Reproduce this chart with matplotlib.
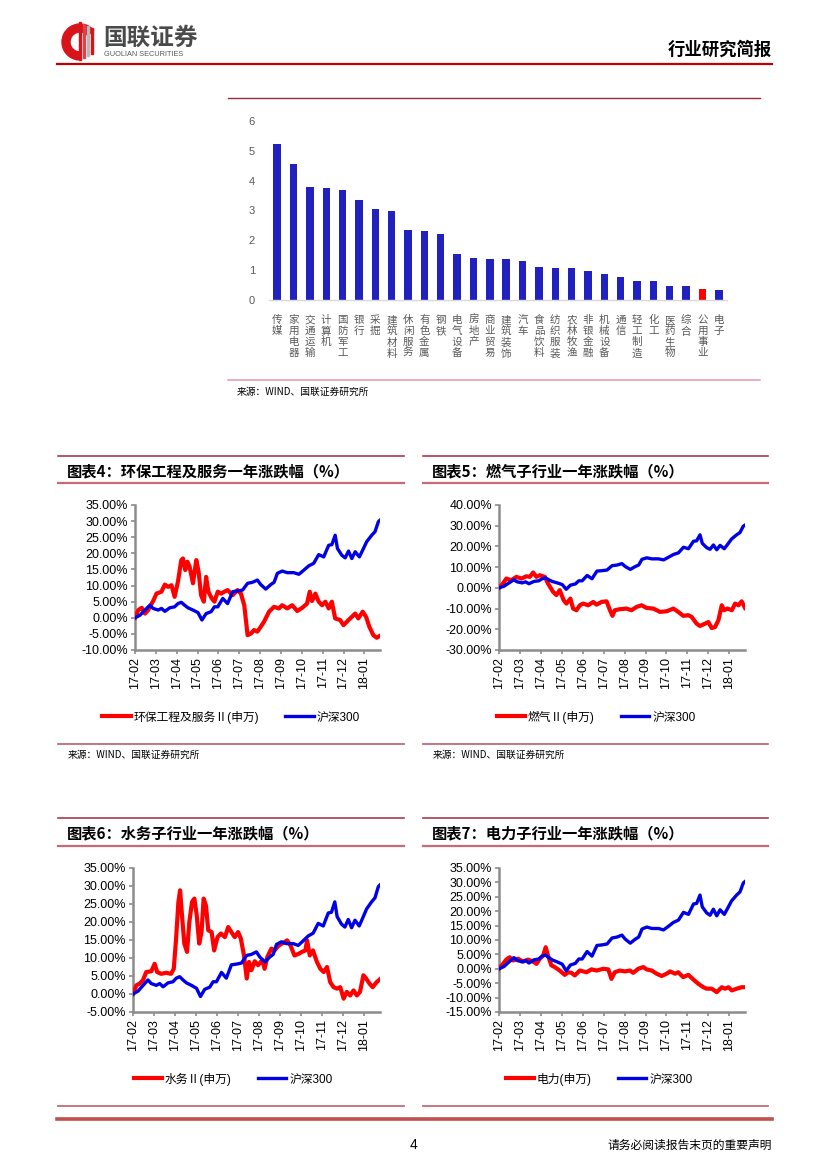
import matplotlib
matplotlib.use('Agg')
import matplotlib.pyplot as plt
from matplotlib.lines import Line2D
from matplotlib.patches import Wedge, Rectangle

W, H = 827, 1169
plt.rcParams['font.family'] = ['Liberation Sans', 'Noto Sans CJK SC', 'DejaVu Sans']
CJK = ['Noto Sans CJK SC', 'DejaVu Sans']

# ---------------- data ----------------
industries = ['传媒', '家用电器', '交通运输', '计算机', '国防军工', '银行', '采掘', '建筑材料',
              '休闲服务', '有色金属', '钢铁', '电气设备', '房地产', '商业贸易', '建筑装饰', '汽车',
              '食品饮料', '纺织服装', '农林牧渔', '非银金融', '机械设备', '通信', '轻工制造', '化工',
              '医药生物', '综合', '公用事业', '电子']
industry_values = [5.22, 4.55, 3.80, 3.77, 3.70, 3.36, 3.05, 2.98, 2.35, 2.30, 2.20, 1.55, 1.40,
                   1.38, 1.36, 1.30, 1.10, 1.08, 1.06, 0.96, 0.88, 0.78, 0.63, 0.63, 0.47, 0.47,
                   0.37, 0.32]
highlight_industry = '公用事业'

month_labels = ['17-02', '17-03', '17-04', '17-05', '17-06', '17-07', '17-08', '17-09',
                '17-10', '17-11', '17-12', '18-01']

# time in months since 2017-02-01
hs300_t = [0, 0.24, 0.48, 0.71, 0.87, 1.11, 1.27, 1.43, 1.67, 1.90, 2.06, 2.22, 2.38, 2.54, 2.78,
           3.02, 3.21, 3.41, 3.65, 3.81, 3.97, 4.21, 4.44, 4.68, 4.92, 5.16, 5.40, 5.63, 5.87,
           6.03, 6.27, 6.51, 6.67, 6.83, 7.06, 7.30, 7.62, 7.86, 8.10, 8.33, 8.57, 8.81, 9.05,
           9.29, 9.44, 9.60, 9.71, 9.92, 10.08, 10.24, 10.40, 10.56, 10.76, 10.92, 11.11, 11.35,
           11.51, 11.67, 11.75]
hs300_v = [0, 0.8, 2.4, 3.9, 2.9, 2.4, 2.9, 2.0, 3.1, 3.4, 4.4, 4.8, 3.9, 3.1, 2.4, 1.6, -0.7,
           1.3, 1.9, 3.4, 3.4, 6.0, 4.4, 8.1, 8.3, 8.6, 10.7, 11.0, 11.7, 10.3, 8.9, 10.3, 11.0,
           13.8, 14.5, 14.0, 14.0, 13.5, 14.8, 16.1, 16.9, 19.6, 18.9, 22.5, 22.7, 25.6, 21.5,
           19.4, 18.6, 20.7, 18.4, 20.5, 18.9, 21.0, 23.6, 25.6, 26.7, 29.8, 30.3]

env_t = [0, 0.16, 0.32, 0.48, 0.63, 0.87, 1.03, 1.27, 1.43, 1.59, 1.75, 1.90, 2.06, 2.22, 2.30,
         2.41, 2.51, 2.62, 2.78, 2.94, 3.05, 3.17, 3.30, 3.41, 3.52, 3.68, 3.81, 3.97, 4.13, 4.29,
         4.44, 4.68, 4.92, 5.08, 5.24, 5.40, 5.56, 5.71, 5.87, 6.03, 6.19, 6.43, 6.67, 6.90, 7.06,
         7.30, 7.54, 7.78, 8.02, 8.25, 8.38, 8.49, 8.65, 8.81, 8.97, 9.13, 9.29, 9.44, 9.60, 9.84,
         10.0, 10.24, 10.40, 10.56, 10.71, 10.92, 11.08, 11.24, 11.43, 11.59, 11.75]
env_v = [0, 2.4, 3.1, 1.3, 2.4, 5.2, 7.5, 8.1, 10.3, 9.6, 10.1, 6.5, 11.2, 17.9, 18.4, 14.8, 17.4,
         15.8, 10.7, 17.9, 14.3, 7.0, 5.0, 12.7, 8.1, 6.0, 5.0, 8.1, 7.5, 8.1, 8.6, 7.0, 8.6, 7.5,
         3.9, -5.4, -4.9, -3.8, -4.3, -2.8, -1.2, 1.9, 3.4, 2.9, 3.9, 2.9, 3.9, 2.1, 3.1, 4.4, 8.1,
         5.2, 7.5, 5.0, 3.9, 5.0, 2.9, 5.0, -0.2, -0.7, -2.3, -0.7, 0.3, 1.3, -0.2, 1.9, 0.3, -2.8,
         -5.4, -6.2, -5.6]

gas_t = [0, 0.19, 0.35, 0.59, 0.83, 1.07, 1.31, 1.47, 1.63, 1.79, 1.95, 2.19, 2.34, 2.58, 2.74,
         2.90, 3.09, 3.22, 3.41, 3.54, 3.70, 3.86, 4.02, 4.26, 4.50, 4.66, 4.90, 5.14, 5.30, 5.42,
         5.53, 5.77, 6.09, 6.33, 6.57, 6.81, 7.05, 7.37, 7.69, 8.01, 8.33, 8.56, 8.80, 9.04, 9.20,
         9.44, 9.60, 9.84, 10.0, 10.16, 10.32, 10.48, 10.64, 10.75, 10.91, 11.12, 11.28, 11.44,
         11.59, 11.75]
gas_v = [0, 2.1, 4.5, 3.7, 5.3, 4.5, 5.6, 5.3, 7.4, 5.3, 6.1, 5.3, 2.1, -1.9, -3.5, -1.1, -6.0,
         -7.6, -5.2, -10.0, -10.8, -8.4, -7.6, -8.4, -6.8, -8.1, -6.8, -6.5, -10.8, -13.5, -10.8,
         -10.3, -10.0, -10.8, -9.2, -8.4, -9.7, -10.0, -11.6, -11.3, -10.0, -11.6, -13.5, -13.2,
         -14.0, -17.3, -18.4, -17.3, -16.5, -19.4, -18.9, -15.6, -8.4, -10.8, -10.0, -10.8, -7.6,
         -8.4, -6.5, -9.7]

water_t = [0, 0.16, 0.32, 0.47, 0.63, 0.87, 1.03, 1.15, 1.34, 1.58, 1.81, 1.94, 2.05, 2.16, 2.24,
           2.33, 2.44, 2.57, 2.68, 2.81, 2.92, 3.03, 3.15, 3.26, 3.36, 3.47, 3.58, 3.74, 3.86,
           4.02, 4.18, 4.37, 4.53, 4.68, 4.84, 5.00, 5.13, 5.28, 5.41, 5.52, 5.63, 5.79, 5.95,
           6.15, 6.26, 6.39, 6.58, 6.73, 6.94, 7.18, 7.33, 7.49, 7.68, 7.89, 8.04, 8.20, 8.28,
           8.41, 8.56, 8.75, 8.91, 9.07, 9.23, 9.38, 9.54, 9.70, 9.86, 10.02, 10.17, 10.33, 10.49,
           10.65, 10.80, 10.96, 11.09, 11.25, 11.40, 11.59, 11.75]
water_v = [0, 2.4, 2.9, 3.8, 6.1, 6.3, 8.4, 6.1, 5.6, 5.9, 5.6, 7.0, 15.4, 25.6, 28.8, 21.9, 14.0,
           11.7, 20.0, 25.6, 26.5, 21.9, 14.0, 17.2, 26.5, 24.6, 17.7, 17.2, 12.1, 15.8, 16.8,
           15.8, 18.6, 17.2, 15.8, 17.2, 15.4, 10.7, 4.3, 8.9, 6.6, 9.1, 8.0, 9.4, 7.0, 10.3, 12.6,
           12.1, 13.5, 14.3, 14.9, 13.5, 10.7, 11.2, 11.7, 12.1, 14.9, 10.7, 12.1, 8.9, 7.0, 6.1,
           7.5, 3.3, 1.9, 1.5, 1.9, -1.3, 0.6, -0.4, 1.0, -0.4, 0.6, 5.2, 4.3, 2.9, 1.9, 3.3, 4.1]

power_t = [0, 0.19, 0.35, 0.51, 0.67, 0.91, 1.15, 1.39, 1.63, 1.79, 1.95, 2.11, 2.23, 2.34, 2.50,
           2.66, 2.90, 3.14, 3.30, 3.46, 3.62, 3.86, 4.18, 4.42, 4.66, 4.98, 5.22, 5.37, 5.53,
           5.77, 6.01, 6.25, 6.41, 6.65, 6.89, 7.05, 7.29, 7.53, 7.77, 8.01, 8.17, 8.41, 8.56,
           8.80, 9.04, 9.28, 9.52, 9.76, 9.92, 10.16, 10.40, 10.64, 10.80, 10.96, 11.12, 11.36,
           11.59, 11.75]
power_v = [0, 1.7, 3.2, 4.0, 2.9, 3.5, 2.5, 3.2, 2.5, 1.7, 3.5, 4.6, 7.5, 4.6, 1.2, 0.6, -0.6,
           -2.1, -1.2, -1.4, -2.3, -0.6, -1.2, -0.2, -0.6, 0.0, -0.2, -3.5, -1.2, -0.6, -0.9, -0.6,
           -1.4, 0.0, 0.6, -0.2, -0.6, -1.7, -2.5, -1.7, -0.9, -1.7, -1.2, -2.9, -2.1, -3.7, -5.2,
           -6.4, -6.9, -6.9, -8.1, -6.4, -6.9, -6.4, -7.5, -6.9, -6.4, -6.4]

# ---------------- helpers ----------------
fig = plt.figure(figsize=(W / 100, H / 100), dpi=100)


def box(x0, y0, x1, y1):
    return [x0 / W, 1 - y1 / H, (x1 - x0) / W, (y1 - y0) / H]


def hline(x0, x1, y, color, lw):
    fig.add_artist(Line2D([x0 / W, x1 / W], [1 - y / H, 1 - y / H],
                          transform=fig.transFigure, color=color, lw=lw))


def text(x, y, s, **kw):
    fig.text(x / W, 1 - y / H, s, **kw)


TITLE_TOP = '#A93A4E'
TITLE_BOT = '#C46A7A'


def chart_title(x0, x1, ytop, ytitle, ybot, s):
    hline(x0, x1, ytop, TITLE_TOP, 1.2)
    text(x0 + 9, ytitle, s, family=CJK, fontsize=11, fontweight='bold', style='italic',
         va='center', ha='left', color='#000000')
    hline(x0, x1, ybot, TITLE_BOT, 1.6)


def line_chart(rect, ylim, yticks, red_t, red_v, red_name, legend_xy):
    ax = fig.add_axes(box(*rect))
    ax.plot(red_t, red_v, color='#FF0000', lw=3.0, solid_joinstyle='round', label=red_name,
            zorder=3)
    ax.plot(hs300_t, hs300_v, color='#0000E6', lw=2.4, solid_joinstyle='round', label='沪深300',
            zorder=4)
    ax.set_xlim(0, 11.75)
    ax.set_ylim(*ylim)
    ax.set_yticks(yticks)
    ax.set_yticklabels([f'{v:.2f}%' for v in yticks])
    ax.set_xticks(range(len(month_labels)))
    ax.set_xticklabels(month_labels, rotation=90)
    for s in ['top', 'right']:
        ax.spines[s].set_visible(False)
    for s in ['left', 'bottom']:
        ax.spines[s].set_color('#8C8C8C')
        ax.spines[s].set_linewidth(1.8)
    ax.tick_params(axis='both', colors='#8C8C8C', labelcolor='#000000', labelsize=9,
                   length=3, width=1.2, pad=2)
    ax.set_facecolor('none')
    handles, labels = ax.get_legend_handles_labels()
    fig.legend(handles, labels, loc='center',
               bbox_to_anchor=(legend_xy[0] / W, 1 - legend_xy[1] / H), ncol=2, frameon=False,
               prop={'family': ['Liberation Sans', 'Noto Sans CJK SC'], 'size': 8.5},
               handlelength=2.4, handletextpad=0.25, columnspacing=2.2)
    return ax


# ---------------- header ----------------
logo = fig.add_axes(box(60, 18, 100, 64))
logo.set_xlim(60, 100)
logo.set_ylim(64, 18)
logo.set_aspect('equal')
logo.axis('off')
logo.add_patch(Wedge((80, 42), 18, 95, 320, width=8, color='#D7141A'))
for i, xb in enumerate([79, 83, 87, 91]):
    logo.add_patch(Rectangle((xb, 22 + i * 2), 2.2, 38 - i * 4,
                             color=['#D7141A', '#E04048', '#B8B8B8', '#D7141A'][i]))
text(103, 38, '国联证券', family=CJK, fontsize=17, fontweight='bold', color='#4A4A4A',
     va='center', ha='left')
text(104, 54, 'GUOLIAN SECURITIES', fontsize=5.3, color='#5A5A5A', va='center', ha='left')
text(772, 50, '行业研究简报', family=CJK, fontsize=12.5, fontweight='bold', color='#000000',
     va='center', ha='right')
hline(57, 772, 64, '#C00000', 1.6)

# ---------------- bar chart ----------------
hline(228, 760, 98, '#A0283C', 1.0)
axb = fig.add_axes(box(269, 121, 727, 300))
bar_colors = ['#FF0000' if n == highlight_industry else '#2121BF' for n in industries]
axb.bar(range(len(industries)), industry_values, width=0.45, color=bar_colors)
axb.set_xlim(-0.5, len(industries) - 0.5)
axb.set_ylim(0, 6)
axb.set_yticks(range(0, 7))
axb.set_xticks(range(len(industries)))
axb.set_xticklabels(['\n'.join(n) for n in industries], family=CJK, fontsize=7.6,
                    color='#595959', linespacing=1.12)
axb.tick_params(axis='both', length=0)
axb.tick_params(axis='y', labelsize=8, labelcolor='#595959', pad=10)
axb.tick_params(axis='x', pad=11)
for s in ['top', 'right', 'left']:
    axb.spines[s].set_visible(False)
axb.spines['bottom'].set_color('#D9D9D9')
axb.spines['bottom'].set_linewidth(1.0)
axb.set_facecolor('none')
hline(228, 760, 380, '#E6A0B0', 1.2)
text(237, 392, '来源：WIND、国联证券研究所', family=CJK, fontsize=7, color='#000000',
     va='center', ha='left')

# ---------------- chart 4 ----------------
chart_title(58, 404, 456, 471, 483, '图表4：环保工程及服务一年涨跌幅（%）')
line_chart((135, 505, 380, 650), (-10, 35), [-10, -5, 0, 5, 10, 15, 20, 25, 30, 35],
           env_t, env_v, '环保工程及服务Ⅱ(申万)', (231, 717))
hline(58, 404, 744, TITLE_BOT, 1.3)
text(68, 755, '来源：WIND、国联证券研究所', family=CJK, fontsize=7, color='#000000',
     va='center', ha='left')

# ---------------- chart 5 ----------------
chart_title(423, 768, 456, 471, 483, '图表5：燃气子行业一年涨跌幅（%）')
line_chart((499, 505, 745, 650), (-30, 40), [-30, -20, -10, 0, 10, 20, 30, 40],
           gas_t, gas_v, '燃气Ⅱ(申万)', (596, 717))
hline(423, 768, 744, TITLE_BOT, 1.3)
text(433, 755, '来源：WIND、国联证券研究所', family=CJK, fontsize=7, color='#000000',
     va='center', ha='left')

# ---------------- chart 6 ----------------
chart_title(58, 404, 818, 833, 846, '图表6：水务子行业一年涨跌幅（%）')
line_chart((133, 868, 380, 1012), (-5, 35), [-5, 0, 5, 10, 15, 20, 25, 30, 35],
           water_t, water_v, '水务Ⅱ(申万)', (233, 1079))
hline(58, 404, 1106, TITLE_BOT, 1.3)

# ---------------- chart 7 ----------------
chart_title(423, 768, 818, 833, 846, '图表7：电力子行业一年涨跌幅（%）')
line_chart((499, 868, 745, 1012), (-15, 35), [-15, -10, -5, 0, 5, 10, 15, 20, 25, 30, 35],
           power_t, power_v, '电力(申万)', (599, 1079))
hline(423, 768, 1106, TITLE_BOT, 1.3)

# ---------------- footer ----------------
hline(57, 772, 1119, '#C0504D', 2.6)
text(413, 1145, '4', fontsize=10, color='#000000', va='center', ha='center')
text(772, 1145, '请务必阅读报告末页的重要声明', family=CJK, fontsize=8.5, color='#000000',
     va='center', ha='right')

fig.savefig('out.png', dpi=100)
